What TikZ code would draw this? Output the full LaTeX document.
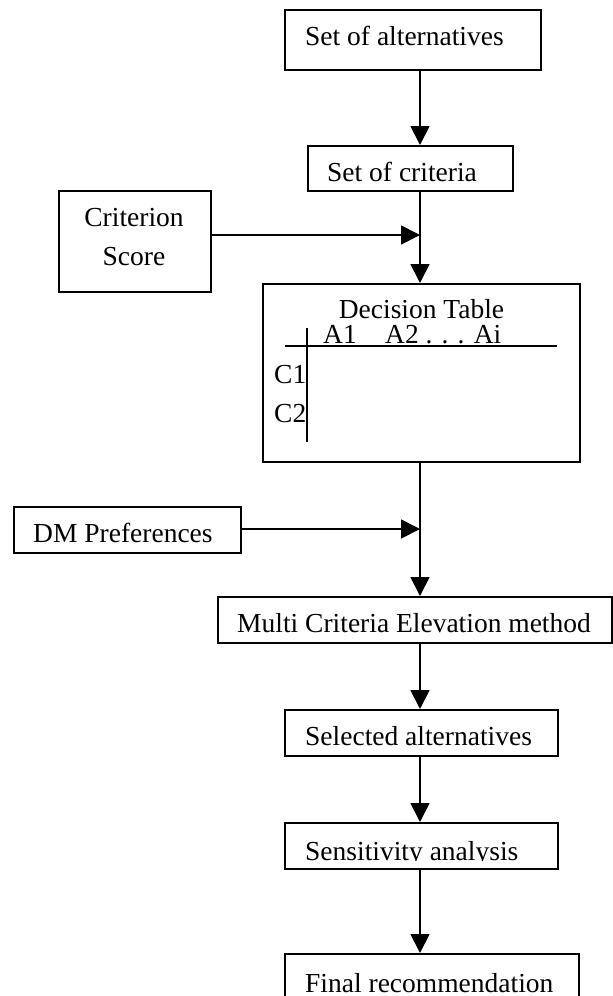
\documentclass[tikz,border=0pt]{standalone}
\usepackage{fontspec}
\setmainfont{Liberation Serif}
\usetikzlibrary{arrows.meta}
\tikzset{
  box/.style={draw, line width=1.8pt, inner sep=0pt, anchor=north west},
  lbl/.style={inner sep=0pt, anchor=base west, font=\fontsize{27.5}{33}\selectfont},
  lblc/.style={inner sep=0pt, anchor=base, font=\fontsize{27.5}{33}\selectfont},
  arr/.style={line width=1.8pt, -{Triangle[length=19pt,width=19pt]}},
  ln/.style={line width=1.8pt},
  tl/.style={line width=1.5pt}
}
\begin{document}
\begin{tikzpicture}[x=1pt,y=-1pt]
\useasboundingbox (0,0) rectangle (613,996);
\clip (0,0) rectangle (613,996);
% boxes
\node[box, minimum width=256pt, minimum height=60pt] (alt) at (284,9) {};
\node[box, minimum width=205pt, minimum height=45pt] (crit) at (307,145) {};
\node[box, minimum width=152pt, minimum height=101pt] (cs) at (58,190) {};
\node[box, minimum width=317pt, minimum height=178pt] (dt) at (262,283) {};
\node[box, minimum width=227pt, minimum height=46pt] (dm) at (13,506) {};
\node[box, minimum width=394pt, minimum height=46pt] (mc) at (217,596) {};
\node[box, minimum width=273pt, minimum height=46pt] (sel) at (284,709) {};
\node[box, minimum width=273pt, minimum height=46pt] (sen) at (284,822) {};
\node[box, minimum width=294pt, minimum height=80pt] (fin) at (284,953) {};
% texts
\node[lbl] (talt) at (305,45) {Set of alternatives};
\node[lbl] (tcrit) at (327,181) {Set of criteria};
\node[lblc] (tcs1) at (134,226) {Criterion};
\node[lblc] (tcs2) at (134,265) {Score};
\node[lblc] (tdt) at (421.5,318) {Decision Table};
\node[lbl] (ta1) at (323,343) {A1};
\node[lbl] (ta2) at (385,343) {A2 . . . Ai};
\node[lbl] (tc1) at (274,383) {C1};
\node[lbl] (tc2) at (274,422) {C2};
\begin{scope}
\clip (13,506) rectangle (240,543.5);
\node[lbl] (tdm) at (33,542.5) {DM Preferences};
\end{scope}
\node[lbl] (tmc) at (237,632) {Multi Criteria Elevation method};
\node[lbl] (tsel) at (305,745) {Selected alternatives};
\begin{scope}
\clip (284,822) rectangle (557,860.5);
\node[lbl] (tsen) at (305,860) {Sensitivity analysis};
\end{scope}
\node[lbl] (tfin) at (305,992) {Final recommendation};
% table lines
\coordinate (hl1) at (285,346);
\coordinate (hl2) at (557,346);
\coordinate (vl1) at (307,328);
\coordinate (vl2) at (307,442);
\draw[tl] (hl1) -- (hl2);
\draw[tl] (vl1) -- (vl2);
% connectors
\coordinate (spine) at (420,0);
\coordinate (j1) at (420,235);
\coordinate (j2) at (420,529);
\draw[arr] (alt.south -| spine) -- (crit.north -| spine);
\draw[ln] (crit.south -| spine) -- (j1);
\draw[arr] (j1) -- (dt.north -| spine);
\draw[arr] (cs.east |- j1) -- (j1);
\draw[ln] (dt.south -| spine) -- (j2);
\draw[arr] (j2) -- (mc.north -| spine);
\draw[arr] (dm.east |- j2) -- (j2);
\draw[arr] (mc.south -| spine) -- (sel.north -| spine);
\draw[arr] (sel.south -| spine) -- (sen.north -| spine);
\draw[arr] (sen.south -| spine) -- (fin.north -| spine);
\end{tikzpicture}
\end{document}
